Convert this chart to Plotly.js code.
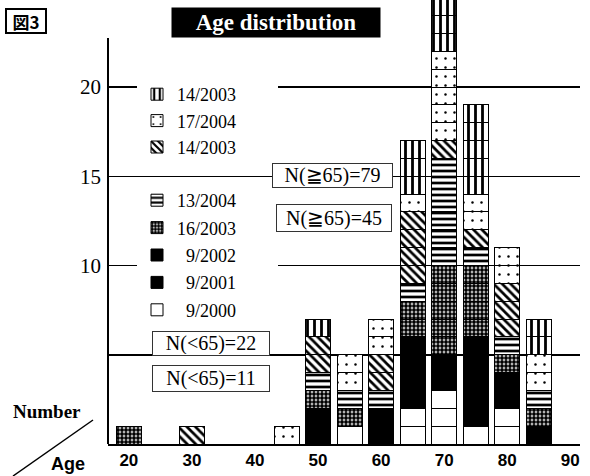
<!DOCTYPE html>
<html>
<head>
<meta charset="utf-8">
<script src="https://cdn.plot.ly/plotly-3.0.1.min.js"></script>
<style>html,body{margin:0;padding:0;background:#fff;} #chart{width:590px;height:476px;}</style>
</head>
<body>
<div id="chart"></div>
<script>
// ---- data ----
const ages = [20, 30, 45, 50, 55, 60, 65, 70, 75, 80, 85];
const seriesNames = ['9/2000', '9/2001', '9/2002', '16/2003', '13/2004', '14/2003', '17/2004', '14/2003'];
const white2000   = [0, 0, 0, 0, 1, 0, 2, 3, 1, 2, 0];
const black2001   = [0, 0, 0, 1, 0, 1, 2, 1, 3, 1, 0];
const black2002   = [0, 0, 0, 1, 0, 1, 2, 1, 2, 1, 1];
const dense2003   = [1, 0, 0, 1, 1, 0, 2, 5, 4, 1, 1];
const horiz2004   = [0, 0, 0, 1, 1, 1, 1, 6, 1, 1, 1];
const diag2003    = [0, 1, 0, 2, 0, 2, 4, 1, 1, 3, 0];
const sparse2004  = [0, 0, 1, 0, 2, 2, 1, 5, 2, 2, 2];
const vert2003    = [0, 0, 0, 1, 0, 0, 3, 3, 5, 0, 2];
const xTicks = [20, 30, 40, 50, 60, 70, 80, 90];
const yTicks = [5, 10, 15, 20];
const yTickText = ['', '10', '15', '20'];

// ---- styles ----
const seriesData = [white2000, black2001, black2002, dense2003, horiz2004, diag2003, sparse2004, vert2003];
const pad = '\u00a0'.repeat(8);
const styles = [
  {color: '#ffffff', pattern: null, legend: 'legend', prefix: '\u00a0\u00a0', rank: 8},
  {color: '#000000', pattern: null, legend: 'legend', prefix: '\u00a0\u00a0', rank: 7},
  {color: '#000000', pattern: null, legend: 'legend', prefix: '\u00a0\u00a0', rank: 6},
  {color: '#ffffff', pattern: {shape: '.', fgcolor: '#000', bgcolor: '#fff', size: 4, solidity: 0.75}, legend: 'legend', prefix: '', rank: 5},
  {color: '#ffffff', pattern: {shape: '-', fgcolor: '#000', bgcolor: '#fff', size: 6, solidity: 0.45}, legend: 'legend', prefix: '', rank: 4},
  {color: '#ffffff', pattern: {shape: '\\', fgcolor: '#000', bgcolor: '#fff', size: 6, solidity: 0.45}, legend: 'legend2', prefix: '', rank: 3},
  {color: '#ffffff', pattern: {shape: '.', fgcolor: '#000', bgcolor: '#fff', size: 9, solidity: 0.06}, legend: 'legend2', prefix: '', rank: 2},
  {color: '#ffffff', pattern: {shape: '|', fgcolor: '#000', bgcolor: '#fff', size: 7, solidity: 0.4}, legend: 'legend2', prefix: '', rank: 1}
];

const traces = [];
seriesData.forEach((vals, si) => {
  const st = styles[si];
  const maxV = Math.max(...vals);
  for (let k = 1; k <= maxV; k++) {
    const marker = {color: st.color, line: {color: '#000', width: 1}};
    if (st.pattern) marker.pattern = st.pattern;
    traces.push({
      type: 'bar',
      x: ages,
      y: vals.map(v => (v >= k ? 1 : null)),
      width: 3.96,
      name: st.prefix + seriesNames[si] + pad,
      legendgroup: 'g' + si,
      legend: st.legend,
      legendrank: st.rank,
      showlegend: k === 1,
      marker: marker,
      hoverinfo: 'skip'
    });
  }
});

// pixel -> paper helpers (plot area: x 108..580, y 0..444)
const L = 108, R = 580, B = 444;
const px = x => (x - L) / (R - L);
const py = y => (B - y) / B;

const serif = 'Liberation Serif, Times New Roman, serif';
const sans = 'Liberation Sans, Arial, sans-serif';

function box(text, cx, cy, w, h) {
  return {xref: 'paper', yref: 'paper', x: px(cx), y: py(cy), xanchor: 'center', yanchor: 'middle',
    text: text, showarrow: false, font: {family: serif, size: 20, color: '#000'},
    bgcolor: '#fff', bordercolor: '#333', borderwidth: 1, borderpad: 1, width: w - 4, height: h - 4};
}

const layout = {
  width: 590, height: 476,
  margin: {l: L, r: 590 - R, t: 0, b: 476 - B},
  paper_bgcolor: '#fff', plot_bgcolor: '#fff',
  barmode: 'stack',
  bargap: 0,
  xaxis: {range: [16.69, 91.54], tickvals: xTicks, ticks: '', showgrid: false, zeroline: false,
    showline: true, linecolor: '#000', linewidth: 2,
    tickfont: {family: sans, size: 17, weight: 'bold', color: '#000'}},
  yaxis: {range: [0, 444 / 17.85], tickvals: yTicks, ticktext: yTickText, ticks: '',
    showgrid: true, gridcolor: '#000', gridwidth: 1.5, zeroline: false, showline: false,
    ticklabelstandoff: 6,
    tickfont: {family: serif, size: 21, color: '#000'}},
  legend: {x: px(137), y: py(182), xanchor: 'left', yanchor: 'top', bgcolor: '#fff', borderwidth: 0,
    traceorder: 'grouped', tracegroupgap: 1, font: {family: serif, size: 18, color: '#000'}},
  legend2: {x: px(137), y: py(76), xanchor: 'left', yanchor: 'top', bgcolor: '#fff', borderwidth: 0,
    traceorder: 'grouped', tracegroupgap: 0, font: {family: serif, size: 18, color: '#000'}},
  shapes: [
    {type: 'line', xref: 'paper', yref: 'y', x0: 0, x1: 0, y0: 0, y1: (444 - 38) / 17.85,
      line: {color: '#000', width: 2}},
    {type: 'line', xref: 'paper', yref: 'paper', x0: px(13), y0: py(476), x1: px(93), y1: py(420),
      line: {color: '#000', width: 1.5}}
  ],
  annotations: [
    {xref: 'paper', yref: 'paper', x: px(276), y: py(22), xanchor: 'center', yanchor: 'middle',
      text: '<b>Age distribution</b>', showarrow: false,
      font: {family: serif, size: 23, color: '#fff'}, bgcolor: '#000', width: 204, height: 25, borderpad: 2},
    {xref: 'paper', yref: 'paper', x: px(25.5), y: py(20.5), xanchor: 'center', yanchor: 'middle',
      text: '<b>図3</b>', showarrow: false,
      font: {family: 'Noto Sans CJK JP, sans-serif', size: 17, color: '#000'},
      bgcolor: '#fff', bordercolor: '#000', borderwidth: 2, width: 36, height: 20, borderpad: 1},
    box('N(≧65)=79', 332.5, 175.5, 121, 25),
    box('N(≧65)=45', 334, 218, 116, 28),
    box('N(<65)=22', 211, 343.5, 118, 25),
    box('N(<65)=11', 211, 378.5, 118, 27),
    {xref: 'paper', yref: 'paper', x: px(47), y: py(411), xanchor: 'center', yanchor: 'middle',
      text: '<b>Number</b>', showarrow: false, font: {family: serif, size: 19, color: '#000'}},
    {xref: 'paper', yref: 'paper', x: px(68), y: py(464), xanchor: 'center', yanchor: 'middle',
      text: '<b>Age</b>', showarrow: false, font: {family: sans, size: 18, color: '#000'}}
  ]
};

Plotly.newPlot('chart', traces, layout, {staticPlot: true, displayModeBar: false});
</script>
</body>
</html>
